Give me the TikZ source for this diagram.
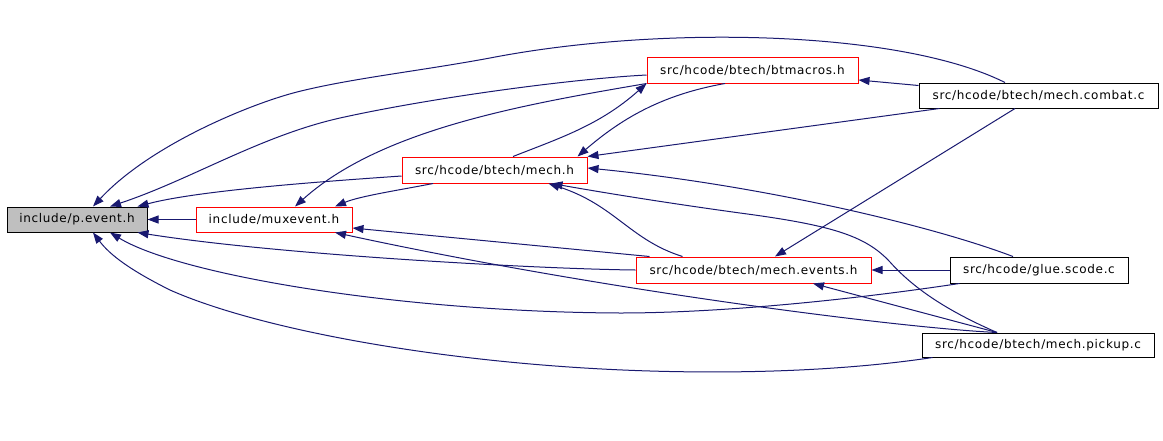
\documentclass[tikz,border=0pt]{standalone}
\usepackage{fontspec}
\setmainfont{DejaVu Sans}[LetterSpace=5.6]
\usetikzlibrary{arrows.meta}
\definecolor{edgeblue}{HTML}{191970}
\definecolor{nodegray}{HTML}{BFBFBF}
\begin{document}
\begin{tikzpicture}[x=1pt,y=-1pt,
  box/.style={draw=black, line width=1pt, inner sep=0pt, minimum height=25pt,
              font=\fontsize{12}{14}\selectfont, text=black},
  redbox/.style={box, draw=red},
  edge/.style={draw=edgeblue, line width=1pt, -{Triangle[length=11pt,width=8pt]}}]
\fill[white] (0,0) rectangle (1163,440);
\useasboundingbox (0,0) rectangle (1163,440);

% nodes
\node[box, fill=nodegray, minimum width=140pt] (pevent) at (77,219.5) {include/p.event.h};
\node[redbox, minimum width=156pt] (mux) at (274,219.5) {include/muxevent.h};
\node[redbox, minimum width=185pt, minimum height=26pt] (mech) at (494.5,170) {src/hcode/btech/mech.h};
\node[redbox, minimum width=211pt, minimum height=26pt] (btmacros) at (752.5,70) {src/hcode/btech/btmacros.h};
\node[redbox, minimum width=235pt, minimum height=26pt] (events) at (753.5,270) {src/hcode/btech/mech.events.h};
\node[box, minimum width=239pt] (combat) at (1038.5,95.5) {src/hcode/btech/mech.combat.c};
\node[box, minimum width=178pt, minimum height=26pt] (glue) at (1039,270) {src/hcode/glue.scode.c};
\node[box, minimum width=232pt, minimum height=24pt] (pickup) at (1038,345) {src/hcode/btech/mech.pickup.c};

% edges into p.event.h
\draw[edge] (mux.west) -- (pevent.east);
\draw[edge] ([yshift=-6pt]mech.west) .. controls (330,181) and (200,190) .. ([xshift=-10pt]pevent.north east);
\draw[edge] ([yshift=-5pt]btmacros.west) .. controls (570,79) and (430,98) .. (340,118)
            .. controls (260,136) and (190,180) .. ([xshift=33pt]pevent.north);
\draw[edge] ([xshift=-33.5pt]combat.north) .. controls (900,30) and (660,25) .. (490,58)
            .. controls (420,71) and (350,78.5) .. (297,92)
            .. controls (250,104) and (150,145) .. ([xshift=16pt]pevent.north);
\draw[edge] (events.west) .. controls (540,269) and (280,255) .. ([xshift=-10pt]pevent.south east);
\draw[edge] ([xshift=10pt]glue.south west) .. controls (850,300) and (720,313) .. (620,313)
            .. controls (400,312) and (180,275) .. ([xshift=33pt]pevent.south);
\draw[edge] ([xshift=11pt]pickup.south west) .. controls (850,370) and (750,374) .. (650,371)
            .. controls (450,365) and (260,330) .. (170,290)
            .. controls (130,270) and (110,255) .. ([xshift=16pt]pevent.south);

% edges into muxevent.h
\draw[edge] ([xshift=-61.5pt]mech.south) .. controls (400,190) and (360,196) .. ([xshift=61pt]mux.north);
\draw[edge] (btmacros.south west) .. controls (520,105) and (380,130) .. ([xshift=21pt]mux.north);
\draw[edge] ([xshift=14pt]events.north west) -- ([yshift=-8.5pt]mux.east);
\draw[edge] ([xshift=-41pt]pickup.north) .. controls (900,328) and (600,290) .. ([xshift=61pt]mux.south);

% edges into mech.h
\draw[edge] ([xshift=-27.5pt]btmacros.south) .. controls (660,95) and (620,120) .. ([xshift=-10pt]mech.north east);
\draw[edge] ([xshift=21pt]combat.south west) -- (mech.north east);
\draw[edge] ([xshift=-26pt]glue.north) .. controls (930,225) and (760,185) .. ([yshift=2pt]mech.east);
\draw[edge] ([xshift=47pt]events.north west) .. controls (630,240) and (615,205) .. ([xshift=54pt]mech.south);
\draw[edge] ([xshift=-41pt]pickup.north) .. controls (950,312) and (915,290) .. (890,262)
            .. controls (865,235) and (830,225) .. (740,213)
            .. controls (660,202) and (600,192) .. ([xshift=57pt]mech.south);

% edges into btmacros.h
\draw[edge] ([xshift=18.5pt]mech.north) .. controls (560,138) and (600,125) .. (btmacros.south west);
\draw[edge] ([yshift=10pt]combat.west) -- ([yshift=-10pt]btmacros.east);

% edges into mech.events.h
\draw[edge] ([xshift=-23.5pt]combat.south) -- ([xshift=21.5pt]events.north);
\draw[edge] (glue.west) -- (events.east);
\draw[edge] ([xshift=-41pt]pickup.north) -- ([xshift=59.5pt]events.south);
\end{tikzpicture}
\end{document}
